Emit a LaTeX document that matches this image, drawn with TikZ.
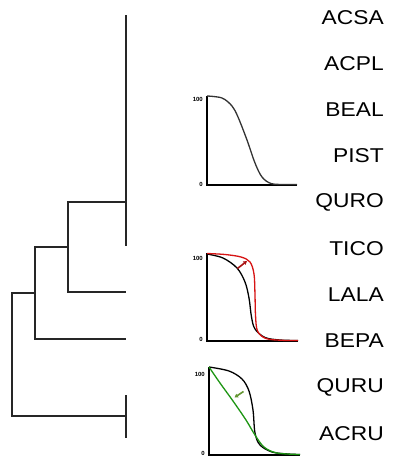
\documentclass[tikz,border=0pt]{standalone}
\usepackage{fontspec}
\setmainfont{Liberation Sans}
\usetikzlibrary{arrows.meta}
\definecolor{curvered}{RGB}{215,20,20}
\definecolor{arrowred}{RGB}{170,20,20}
\definecolor{curvegreen}{RGB}{30,150,20}
\definecolor{arrowgreen}{RGB}{100,150,50}
\tikzset{
  branch/.style={line width=1.2pt, draw=black!85},
  taxon/.style={anchor=east, inner sep=0pt, xscale=1.14, font=\fontsize{20}{20}\selectfont, text=black},
  axis/.style={line width=1.2pt, draw=black},
  tick/.style={anchor=east, inner sep=0pt, font=\fontsize{6}{6}\selectfont\bfseries},
  curve/.style={line width=1.3pt, smooth, tension=0.55},
  shiftarrow/.style={line width=1.6pt, -{Triangle[length=3.5pt,width=4pt]}},
}
\begin{document}
\begin{tikzpicture}[x=1pt, y=-1pt]
\useasboundingbox (0,0) rectangle (392,459);
\fill[white] (0,0) rectangle (392,459);

% taxon labels
\foreach \name [count=\i from 0] in {ACSA,ACPL,BEAL,PIST,QURO,TICO,LALA,BEPA,QURU,ACRU}
  \node[taxon] (t\i) at (384,{17.5+46.2*\i}) {\name};

% tree coordinates
\coordinate (topA) at (126,15);
\coordinate (topB) at (126,246);
\coordinate (n1R) at (126,202);
\coordinate (n1) at (68,202);
\coordinate (lalaL) at (68,292);
\coordinate (lalaR) at (126,292);
\coordinate (n2R) at (68,247);
\coordinate (n2) at (35,247);
\coordinate (bepaL) at (35,339);
\coordinate (bepaR) at (126,339);
\coordinate (n3R) at (35,293);
\coordinate (n3) at (12,293);
\coordinate (rootL) at (12,416);
\coordinate (rootR) at (126,416);
\coordinate (qA) at (126,395);
\coordinate (qB) at (126,438);

% tree branches
\draw[branch] (topA) -- (topB);
\draw[branch] (n1R) -- (n1) -- (lalaL) -- (lalaR);
\draw[branch] (n2R) -- (n2) -- (bepaL) -- (bepaR);
\draw[branch] (n3R) -- (n3) -- (rootL) -- (rootR);
\draw[branch] (qA) -- (qB);

% panel 1
\coordinate (p1top) at (207,96);
\coordinate (p1o) at (207,185);
\coordinate (p1end) at (297,185);
\draw[axis] (p1top) -- (p1o) -- (p1end);
\node[tick] (p1hi) at (203,99) {100};
\node[tick] (p1lo) at (203,184) {0};
\draw[curve, draw=black!80] plot coordinates {(207,96) (222,98) (232,106) (238,117) (247,140) (255,163) (262,177) (271,183.5) (284,184.5) (297,184.5)};

% panel 2
\coordinate (p2top) at (207,253);
\coordinate (p2o) at (207,341);
\coordinate (p2end) at (298,341);
\draw[axis] (p2top) -- (p2o) -- (p2end);
\node[tick] (p2hi) at (203,258) {100};
\node[tick] (p2lo) at (203,339) {0};
\draw[curve, draw=black] plot coordinates {(207,254) (223,258) (237,268) (245,282) (249,298) (251.5,317) (255,329) (265,337.5) (280,340) (298,340.5)};
\draw[curve, draw=curvered] plot coordinates {(207,253.5) (225,254.5) (241,257) (250,262) (254,274) (255,295) (255.5,315) (257.5,331) (266,338.5) (282,340.3) (298,340.5)};
\coordinate (a2s) at (237.5,268.5);
\coordinate (a2e) at (247,261);
\draw[shiftarrow, draw=arrowred, fill=arrowred] (a2s) -- (a2e);

% panel 3
\coordinate (p3top) at (209,367);
\coordinate (p3o) at (209,455);
\coordinate (p3end) at (300,455);
\draw[axis] (p3top) -- (p3o) -- (p3end);
\node[tick] (p3hi) at (205,374) {100};
\node[tick] (p3lo) at (205,453) {0};
\draw[curve, draw=black] plot coordinates {(209,367) (229,371) (242,379) (249,391) (253,410) (255,433) (260,445) (272,452) (288,454) (300,454.5)};
\draw[curve, draw=curvegreen] plot coordinates {(209,367) (220,383) (233,401) (246,420) (255,435) (264,447) (277,453) (300,454.5)};
\coordinate (a3s) at (243.5,391.5);
\coordinate (a3e) at (234.5,397.5);
\draw[shiftarrow, draw=arrowgreen, fill=arrowgreen] (a3s) -- (a3e);
\end{tikzpicture}
\end{document}
